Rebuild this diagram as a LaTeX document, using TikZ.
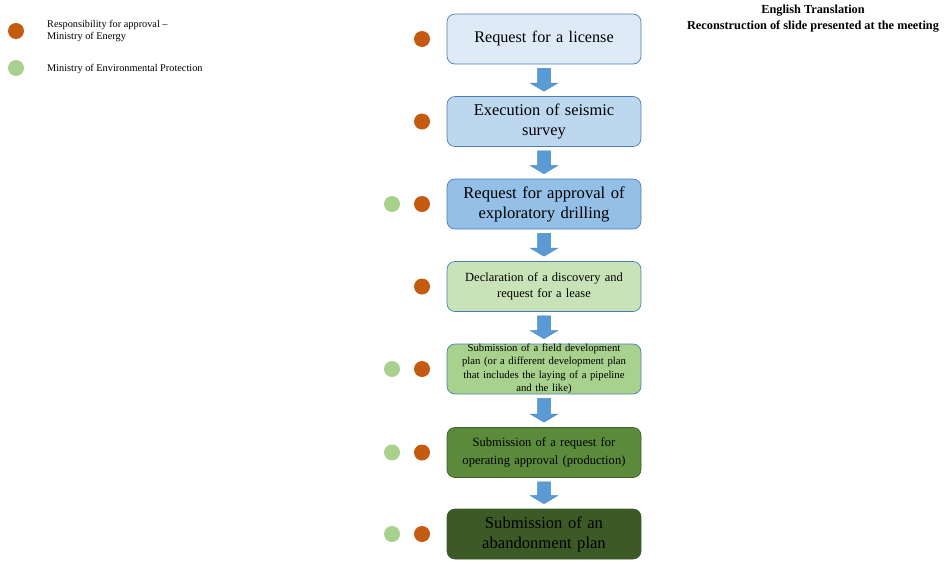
\documentclass[tikz,border=0pt]{standalone}
\usepackage{fontspec}
\setmainfont{Liberation Serif}
\usetikzlibrary{calc}
\definecolor{fa}{HTML}{DEEBF7}
\definecolor{fb}{HTML}{BDD7EE}
\definecolor{fc}{HTML}{94BFE6}
\definecolor{fd}{HTML}{C9E3B8}
\definecolor{fe}{HTML}{A9D18E}
\definecolor{ff}{HTML}{5A8A3A}
\definecolor{fg}{HTML}{3B5A26}
\definecolor{boxline}{HTML}{4A7EB0}
\definecolor{greenline}{HTML}{3E5F2A}
\definecolor{orangedot}{HTML}{C55A11}
\definecolor{greendot}{HTML}{A9D18E}
\definecolor{arrowc}{HTML}{5B9BD5}
\definecolor{arrowline}{HTML}{4A86C0}
\newcommand\blockarr[2]{%
  \filldraw[fill=arrowc,draw=arrowline,line width=0.5pt]
    ($(#1.south)+(-6.5,4)$) -- ($(#1.south)+(6.5,4)$) --
    ($(#2.north)+(6.5,-13)$) -- ($(#2.north)+(13.5,-13)$) --
    ($(#2.north)+(0,-5)$) -- ($(#2.north)+(-13.5,-13)$) --
    ($(#2.north)+(-6.5,-13)$) -- cycle;}
\begin{document}
\begin{tikzpicture}[x=1pt,y=-1pt]
\useasboundingbox (0,0) rectangle (949,563);
\tikzset{
  stepbox/.style={draw=boxline, line width=0.7pt, rounded corners=8pt,
    minimum width=194pt, minimum height=50pt, text width=186pt,
    align=center, inner sep=0pt},
  odot/.style={circle, fill=orangedot, minimum size=16pt, inner sep=0pt},
  gdot/.style={circle, fill=greendot, minimum size=16pt, inner sep=0pt},
  legtext/.style={anchor=west, align=left, inner sep=0pt,
    font=\fontsize{10.3}{12}\selectfont},
}
% legend
\node[odot] (lo) at (16,31) {};
\node[legtext] (lot) at (47,31) {Responsibility for approval --\\Ministry of Energy};
\node[gdot] (lg) at (16,68) {};
\node[legtext] (lgt) at (47,69) {Ministry of Environmental Protection};
% title
\node[align=center, inner sep=0pt, font=\bfseries\fontsize{12.3}{16}\selectfont]
  (title) at (813,19) {English Translation\\Reconstruction of slide presented at the meeting};
% boxes
\node[stepbox, fill=fa, font=\fontsize{16.2}{20}\selectfont] (b1) at (544,39) {Request for a license};
\node[stepbox, fill=fb, font=\fontsize{16.4}{20}\selectfont] (b2) at (544,121.5) {Execution of seismic\\survey};
\node[stepbox, fill=fc, font=\fontsize{16.6}{20}\selectfont] (b3) at (544,204) {Request for approval of\\exploratory drilling};
\node[stepbox, fill=fd, font=\fontsize{12.5}{16}\selectfont] (b4) at (544,286.5) {Declaration of a discovery and\\request for a lease};
\node[stepbox, fill=fe, font=\fontsize{10.7}{13.3}\selectfont] (b5) at (544,369) {Submission of a field development\\plan (or a different development plan\\that includes the laying of a pipeline\\and the like)};
\node[stepbox, fill=ff, draw=greenline, text=black, font=\fontsize{12.6}{18}\selectfont] (b6) at (544,452.5) {Submission of a request for\\operating approval (production)};
\node[stepbox, fill=fg, draw=greenline, text=black, font=\fontsize{16.6}{20}\selectfont] (b7) at (544,534) {Submission of an\\abandonment plan};
% arrows
\blockarr{b1}{b2}
\blockarr{b2}{b3}
\blockarr{b3}{b4}
\blockarr{b4}{b5}
\blockarr{b5}{b6}
\blockarr{b6}{b7}
% responsibility dots
\node[odot] (o1) at (422,39) {};
\node[odot] (o2) at (422,121.5) {};
\node[odot] (o3) at (422,204) {};
\node[gdot] (g3) at (392,204) {};
\node[odot] (o4) at (422,286.5) {};
\node[odot] (o5) at (422,369) {};
\node[gdot] (g5) at (392,369) {};
\node[odot] (o6) at (422,452.5) {};
\node[gdot] (g6) at (392,452.5) {};
\node[odot] (o7) at (422,534) {};
\node[gdot] (g7) at (392,534) {};
\end{tikzpicture}
\end{document}
